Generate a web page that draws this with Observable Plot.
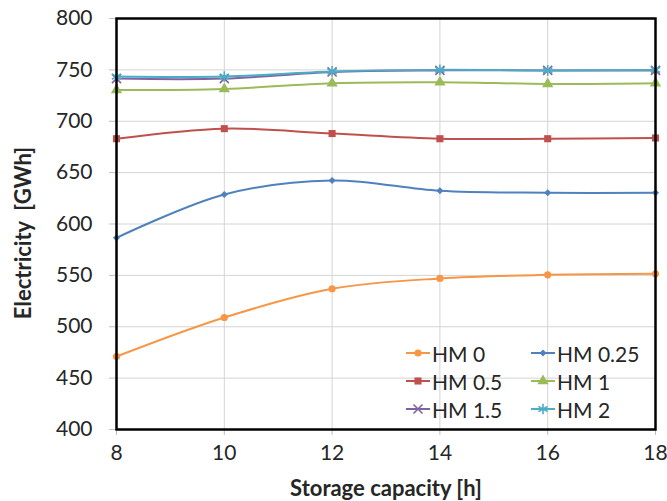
<!DOCTYPE html>
<html>
<head>
<meta charset="utf-8">
<script src="https://cdn.jsdelivr.net/npm/d3@7"></script>
<script src="https://cdn.jsdelivr.net/npm/@observablehq/plot@0.6"></script>
<style>
  body { margin: 0; background: #fff; font-family: Lato, sans-serif; }
  #wrap { position: relative; width: 667px; height: 501px; }
  #legend { position: absolute; left: 0; top: 0; width: 667px; height: 501px; pointer-events: none; }
  .item { position: absolute; display: flex; align-items: center; height: 26px; font-size: 21px; color: #262626; font-family: Lato, sans-serif; }
  .item svg { display: block; margin-right: 2px; }
</style>
</head>
<body>
<div id="wrap"></div>
<script>
const storage = [8, 10, 12, 14, 16, 18];
const seriesNames = ["HM 0", "HM 0.25", "HM 0.5", "HM 1", "HM 1.5", "HM 2"];
const hm0   = [471, 509, 537, 547, 550.5, 551.5];
const hm025 = [586.5, 628.7, 642.4, 632.3, 630.4, 630.4];
const hm05  = [683, 692.8, 688, 683, 683, 683.7];
const hm1   = [730.4, 731.4, 737, 738, 736.3, 737];
const hm15  = [741.5, 741.5, 748, 749.5, 749.5, 749.5];
const hm2   = [743.5, 743.5, 748.5, 750, 749.5, 750];
const yTicks = [400, 450, 500, 550, 600, 650, 700, 750, 800];
const xTicks = [8, 10, 12, 14, 16, 18];
const xLabel = "Storage capacity [h]";
const yLabel = "Electricity\u00a0\u00a0[GWh]";

const values = [hm0, hm025, hm05, hm1, hm15, hm2];
const colors = ["#F79646", "#4F81BD", "#C0504D", "#9BBB59", "#8064A2", "#4BACC6"];
const symbols = ["circle", "diamond2", "square", "triangle", "times", "asterisk"];
const radii = [3.6, 3.2, 4.0, 4.2, 4.2, 5];
const filled = [true, true, true, true, false, false];

const data = [];
seriesNames.forEach((s, i) => storage.forEach((x, j) => data.push({series: s, idx: i, x, y: values[i][j]})));

const marks = [
  Plot.gridY(yTicks, {stroke: "#d4d4d4", strokeOpacity: 1, strokeWidth: 1}),
  Plot.gridX(xTicks, {stroke: "#d4d4d4", strokeOpacity: 1, strokeWidth: 1}),
  Plot.axisY({ticks: yTicks, tickSize: 7, tickPadding: 17, stroke: "#bfbfbf", fill: "#262626", fontSize: 21, label: null}),
  Plot.axisX({ticks: xTicks, tickSize: 6, tickPadding: 10, stroke: "#bfbfbf", fill: "#262626", fontSize: 21, label: null}),
];
seriesNames.forEach((s, i) => {
  const d = data.filter(r => r.idx === i);
  marks.push(Plot.line(d, {x: "x", y: "y", stroke: colors[i], strokeWidth: 2, curve: "catmull-rom"}));
  marks.push(Plot.dot(d, filled[i]
    ? {x: "x", y: "y", symbol: () => symbols[i], r: radii[i], fill: colors[i], stroke: "none"}
    : {x: "x", y: "y", symbol: () => symbols[i], r: radii[i], stroke: colors[i], strokeWidth: 1.6, fill: "none"}));
});
marks.push(Plot.frame({stroke: "#000", strokeWidth: 2.5}));
marks.push(Plot.text([xLabel], {frameAnchor: "bottom", dy: 59, fontWeight: "bold", fontSize: 22, fill: "#262626", lineAnchor: "middle"}));
marks.push(Plot.text([yLabel], {frameAnchor: "left", dx: -93, dy: 9, rotate: -90, textAnchor: "middle", lineAnchor: "middle", fontWeight: "bold", fontSize: 22, fill: "#262626"}));

const chart = Plot.plot({
  width: 667, height: 501,
  marginLeft: 116, marginRight: 12, marginTop: 18, marginBottom: 72,
  style: {fontFamily: "Lato, sans-serif", background: "#fff", overflow: "visible"},
  x: {domain: [8, 18]},
  y: {domain: [400, 800]},
  symbol: {type: "identity"},
  marks
});
const wrap = document.getElementById("wrap");
wrap.appendChild(chart);

// legend overlay
const legend = document.createElement("div");
legend.id = "legend";
const pos = [[406, 353], [531, 353], [406, 381], [531, 381], [406, 409], [531, 409]];
seriesNames.forEach((s, i) => {
  const it = document.createElement("div");
  it.className = "item";
  it.style.left = pos[i][0] + "px";
  it.style.top = (pos[i][1] - 13) + "px";
  const sym = d3.symbol().type({circle: d3.symbolCircle, diamond2: d3.symbolDiamond2, square: d3.symbolSquare, triangle: d3.symbolTriangle, times: d3.symbolTimes, asterisk: d3.symbolAsterisk}[symbols[i]]).size(Math.PI * radii[i] * radii[i])();
  const f = filled[i] ? `fill="${colors[i]}"` : `fill="none" stroke="${colors[i]}" stroke-width="1.6"`;
  it.innerHTML = `<svg width="24" height="26"><line x1="0" x2="24" y1="13" y2="13" stroke="${colors[i]}" stroke-width="2"/><path transform="translate(12,13)" d="${sym}" ${f}/></svg><span>${s}</span>`;
  legend.appendChild(it);
});
wrap.appendChild(legend);
</script>
</body>
</html>
